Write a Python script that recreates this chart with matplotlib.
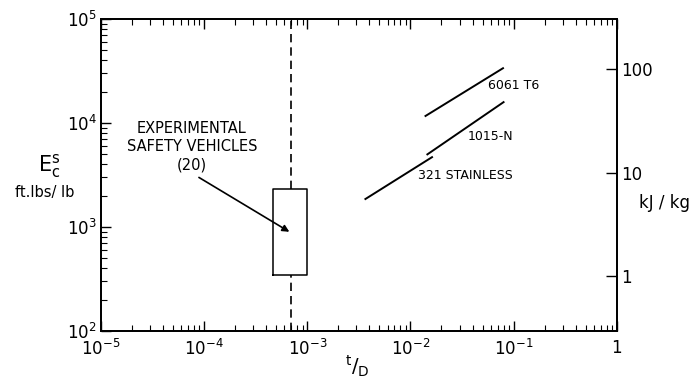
import matplotlib
matplotlib.use("Agg")
import matplotlib.pyplot as plt
import numpy as np

plt.rcParams['font.family'] = ['DejaVu Sans']
plt.rcParams['mathtext.fontset'] = 'dejavusans'

# Data (t/D, ft.lbs/lb)
series_names = ["6061 T6", "1015-N", "321 STAINLESS"]
x_6061 = [0.014, 0.079]
y_6061 = [11700, 33700]
x_1015 = [0.0146, 0.080]
y_1015 = [5000, 15900]
x_321 = [0.00366, 0.0162]
y_321 = [1860, 4700]

esv_x = 7e-4               # dashed vertical line
esv_box_x = [4.6e-4, 1.0e-3]
esv_box_y = [345, 2300]
arrow_start = (8.9e-5, 3000)
arrow_end = (6.7e-4, 900)

x_ticks = [1e-5, 1e-4, 1e-3, 1e-2, 1e-1, 1]
x_ticklabels = [r'$10^{-5}$', r'$10^{-4}$', r'$10^{-3}$', r'$10^{-2}$', r'$10^{-1}$', '1']
y_ticks = [1e2, 1e3, 1e4, 1e5]
y_ticklabels = [r'$10^{2}$', r'$10^{3}$', r'$10^{4}$', r'$10^{5}$']
kj_ticks = [1, 10, 100]
kj_ticklabels = ['1', '10', '100']
FTLB_PER_KJ = 334.55

fig = plt.figure(figsize=(7.0, 3.82), dpi=100)
ax = fig.add_axes([0.1443, 0.1335, 0.881 - 0.1443, 0.950 - 0.1335])
ax.set_xscale('log')
ax.set_yscale('log')
ax.set_xlim(1e-5, 1)
ax.set_ylim(1e2, 1e5)

lw = 1.4
ax.plot(x_6061, y_6061, color='black', lw=lw)
ax.plot(x_1015, y_1015, color='black', lw=lw)
ax.plot(x_321, y_321, color='black', lw=lw)

ax.text(0.056, 23000, "6061 T6", fontsize=9, ha='left', va='center')
ax.text(0.036, 7500, "1015-N", fontsize=9, ha='left', va='center')
ax.text(0.0118, 3100, "321 STAINLESS", fontsize=9, ha='left', va='center')

# dashed line split by box
ax.plot([esv_x, esv_x], [esv_box_y[1], 1e5], color='black', lw=1.2, ls=(0, (5, 3)))
ax.plot([esv_x, esv_x], [1e2, esv_box_y[0]], color='black', lw=1.2, ls=(0, (5, 3)))
ax.plot([esv_box_x[0], esv_box_x[1], esv_box_x[1], esv_box_x[0], esv_box_x[0]],
        [esv_box_y[0], esv_box_y[0], esv_box_y[1], esv_box_y[1], esv_box_y[0]],
        color='black', lw=1.1)

ax.annotate("", xy=arrow_end, xytext=arrow_start,
            arrowprops=dict(arrowstyle='-|>', color='black', lw=1.2,
                            mutation_scale=10, shrinkA=0, shrinkB=0))
ax.text(7.6e-5, 5900, "EXPERIMENTAL\nSAFETY VEHICLES\n(20)",
        fontsize=10.5, ha='center', va='center', linespacing=1.3)

ax.set_xticks(x_ticks)
ax.set_xticklabels(x_ticklabels, fontsize=12)
ax.set_yticks(y_ticks)
ax.set_yticklabels(y_ticklabels, fontsize=12)
ax.tick_params(which='major', direction='in', length=7, width=1, top=True, right=False)
ax.tick_params(which='minor', direction='in', length=4, width=0.8, top=True, right=False)
ax.tick_params(axis='x', pad=6)
ax.tick_params(axis='y', pad=3)
for s in ax.spines.values():
    s.set_linewidth(1.3)

# right kJ/kg axis
ax2 = ax.twinx()
ax2.set_yscale('log')
ax2.set_ylim(1e2 / FTLB_PER_KJ, 1e5 / FTLB_PER_KJ)
ax2.set_yticks(kj_ticks)
ax2.set_yticklabels(kj_ticklabels, fontsize=12)
ax2.yaxis.set_minor_locator(matplotlib.ticker.NullLocator())
ax2.tick_params(which='major', direction='in', length=8, width=1, pad=3)
for s in ax2.spines.values():
    s.set_linewidth(1.3)

fig.text(0.913, 0.468, "kJ / kg", fontsize=12, ha='left', va='center')
fig.text(0.071, 0.565, r'$\mathrm{E}_\mathrm{c}^\mathrm{s}$', fontsize=15, ha='center', va='center')
fig.text(0.064, 0.495, "ft.lbs/ lb", fontsize=10.5, ha='center', va='center')
fig.text(0.51, 0.04, r'$^{\mathrm{t}}/_{\mathrm{D}}$', fontsize=14, ha='center', va='center')

fig.savefig("out.png", dpi=100, facecolor='white')
